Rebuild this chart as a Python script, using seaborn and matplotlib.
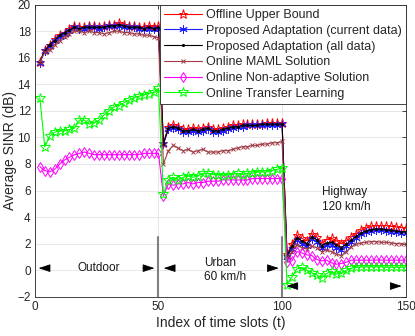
import numpy as np
import pandas as pd
import matplotlib
matplotlib.use("Agg")
import matplotlib.pyplot as plt
import seaborn as sns

# time slot index (one point every 2 slots)
slots = np.arange(2, 151, 2)

offline_upper = [15.7, 16.6, 17.0, 17.4, 17.7, 17.9, 18.2, 18.4, 18.3, 18.3, 18.4, 18.4, 18.3, 18.4, 18.5, 18.5, 18.6, 18.5, 18.4, 18.4, 18.3, 18.3, 18.4, 18.3, 18.4,
                 9.6, 10.8, 10.9, 10.8, 10.6, 10.6, 10.7, 10.6, 10.7, 10.8, 10.6, 10.6, 10.7, 10.8, 10.9, 10.9, 11.0, 11.0, 11.0, 11.0, 11.0, 11.1, 11.1, 11.1, 11.1,
                 1.2, 2.0, 2.65, 2.4, 2.2, 2.75, 2.5, 2.0, 2.3, 2.4, 2.2, 2.0, 2.2, 2.5, 2.75, 3.0, 3.15, 3.3, 3.35, 3.35, 3.35, 3.3, 3.25, 3.2, 3.15]
proposed_current = [15.6, 16.5, 16.9, 17.3, 17.6, 17.8, 18.0, 18.3, 18.2, 18.2, 18.3, 18.3, 18.2, 18.3, 18.4, 18.4, 18.4, 18.3, 18.3, 18.3, 18.2, 18.2, 18.2, 18.2, 18.2,
                    9.5, 10.6, 10.7, 10.6, 10.4, 10.4, 10.5, 10.4, 10.5, 10.6, 10.4, 10.4, 10.5, 10.6, 10.7, 10.8, 10.8, 10.9, 10.9, 10.9, 10.9, 10.9, 10.9, 10.9, 11.0,
                    1.0, 1.6, 2.3, 2.0, 1.8, 2.35, 2.1, 1.7, 1.9, 1.9, 1.7, 1.5, 1.8, 2.1, 2.4, 2.7, 2.85, 2.95, 3.0, 3.0, 2.95, 2.9, 2.85, 2.8, 2.8]
proposed_all = [15.7, 16.5, 17.0, 17.3, 17.7, 17.9, 18.1, 18.3, 18.2, 18.3, 18.3, 18.3, 18.3, 18.3, 18.4, 18.4, 18.5, 18.4, 18.3, 18.3, 18.3, 18.2, 18.3, 18.2, 18.3,
                9.5, 10.7, 10.8, 10.7, 10.5, 10.5, 10.6, 10.5, 10.6, 10.7, 10.5, 10.5, 10.6, 10.7, 10.8, 10.8, 10.9, 10.9, 10.9, 10.9, 11.0, 11.0, 11.0, 11.0, 11.0,
                1.1, 1.8, 2.45, 2.2, 2.0, 2.5, 2.3, 1.85, 2.05, 2.1, 1.9, 1.7, 1.95, 2.25, 2.55, 2.8, 2.95, 3.05, 3.1, 3.1, 3.05, 3.0, 2.95, 2.9, 2.9]
online_maml = [15.7, 16.4, 16.6, 17.0, 17.3, 17.6, 17.8, 18.0, 18.0, 17.9, 18.0, 17.9, 17.9, 17.8, 17.9, 18.0, 18.0, 17.9, 17.9, 17.8, 17.8, 17.7, 17.7, 17.6, 17.5,
               8.0, 9.0, 9.4, 9.2, 9.0, 9.1, 8.9, 9.0, 9.1, 8.9, 8.9, 8.9, 9.0, 9.0, 9.1, 9.2, 9.3, 9.3, 9.4, 9.4, 9.5, 9.5, 9.6, 9.6, 9.7,
               0.8, 1.4, 1.9, 1.7, 1.6, 1.8, 1.7, 1.4, 1.5, 1.4, 1.2, 1.1, 1.4, 1.75, 1.95, 2.05, 2.1, 2.15, 2.15, 2.1, 2.1, 2.05, 2.0, 2.0, 1.95]
online_nonadaptive = [7.8, 7.5, 7.4, 7.6, 8.0, 8.3, 8.5, 8.7, 8.8, 8.9, 8.8, 8.7, 8.7, 8.7, 8.7, 8.7, 8.7, 8.7, 8.7, 8.7, 8.7, 8.8, 8.8, 8.8, 8.8,
                      5.6, 6.5, 6.4, 6.5, 6.5, 6.6, 6.5, 6.6, 6.6, 6.7, 6.7, 6.7, 6.8, 6.8, 6.8, 6.8, 6.8, 6.8, 6.9, 6.9, 6.9, 6.9, 6.9, 6.9, 6.9,
                      0.6, 0.7, 1.4, 1.3, 1.15, 1.1, 0.8, 0.7, 0.75, 0.55, 0.45, 0.5, 0.6, 0.75, 0.75, 0.75, 0.75, 0.75, 0.76, 0.76, 0.75, 0.75, 0.75, 0.75, 0.75]
online_transfer = [13.0, 9.3, 10.1, 10.4, 10.5, 10.5, 10.6, 10.7, 11.3, 11.3, 11.0, 11.1, 11.3, 11.7, 12.0, 12.3, 12.4, 12.6, 12.8, 13.0, 13.1, 13.2, 13.3, 13.4, 13.7,
                   5.7, 6.8, 7.0, 6.8, 7.0, 7.1, 7.0, 7.1, 7.3, 7.3, 7.2, 7.2, 7.1, 7.2, 7.2, 7.3, 7.2, 7.3, 7.3, 7.4, 7.4, 7.4, 7.5, 7.6, 7.7,
                   -1.1, -0.5, 0.1, 0.2, 0.0, -0.2, -0.35, -0.6, -0.25, -0.1, -0.3, -0.25, 0.0, 0.15, 0.2, 0.25, 0.25, 0.25, 0.25, 0.25, 0.22, 0.22, 0.22, 0.22, 0.22]

series = [
    ("Offline Upper Bound", offline_upper, "#ff0000", "*", 6.5, "none"),
    ("Proposed Adaptation (current data)", proposed_current, "#2020ff", (6, 2, 0), 6, "none"),
    ("Proposed Adaptation (all data)", proposed_all, "black", ".", 3, "black"),
    ("Online MAML Solution", online_maml, "#a03c46", "x", 3.5, "none"),
    ("Online Non-adaptive Solution", online_nonadaptive, "#ff00ff", "d", 5.5, "none"),
    ("Online Transfer Learning", online_transfer, "#00ff00", "*", 7, "none"),
]

sns.set_theme(style="whitegrid")
plt.rcParams['font.family'] = ['Liberation Sans', 'DejaVu Sans']

fig = plt.figure(figsize=(4.15, 3.36), dpi=100)
ax = fig.add_axes([0.084, 0.117, 0.8936, 0.869])

for name, vals, col, mk, ms, fc in series:
    df = pd.DataFrame({"t": slots, "v": vals})
    sns.lineplot(data=df, x="t", y="v", ax=ax, color=col, marker=mk, markersize=ms,
                 markerfacecolor=fc, markeredgecolor=col, markeredgewidth=0.7,
                 linewidth=0.8, label=name, estimator=None)

# scenario boundaries
for xb in [50, 100]:
    ax.plot([xb, xb], [-2, 2.5], color="#808080", linewidth=1.5, zorder=1)

arrow = dict(arrowstyle="-|>,head_length=0.9,head_width=0.3", color="black",
             linewidth=0.6, mutation_scale=8)
for tail, tip, y in [(7, 0.4, 0.15), (42.5, 49.5, 0.15), (57.5, 51, 0.15),
                     (94.5, 99.8, 0.15), (107.5, 100.6, -1.2), (143, 149.5, -1.2)]:
    ax.annotate("", xy=(tip, y), xytext=(tail, y), arrowprops=arrow)

ax.text(26, 0.15, "Outdoor", ha="center", va="center", fontsize=8.5, color="#1a1a1a")
ax.text(68.5, 0.0, "Urban\n60 km/h", ha="left", va="center", fontsize=8.5,
        color="#1a1a1a", linespacing=1.3)
ax.text(116, 5.3, "Highway\n120 km/h", ha="left", va="center", fontsize=8.5,
        color="#1a1a1a", linespacing=1.3)

ax.set_xlim(0, 150)
ax.set_ylim(-2, 20)
ax.set_xticks([0, 50, 100, 150])
ax.set_yticks(np.arange(-2, 21, 2))
ax.set_xlabel("Index of time slots (t)", fontsize=10, color="#262626", labelpad=2)
ax.set_ylabel("Average SINR (dB)", fontsize=10, color="#262626", labelpad=0)
ax.tick_params(direction="in", length=3, width=0.6, labelsize=8.5, colors="#262626",
               pad=3, top=True, right=True)
ax.tick_params(axis="both", which="both", labelcolor="#262626")
ax.grid(True, color="#e3e3e3", linewidth=0.6)
for s in ax.spines.values():
    s.set_color("#262626")
    s.set_linewidth(0.6)

leg = ax.legend(loc="upper right", fontsize=9, frameon=True, fancybox=False,
                edgecolor="#262626", borderaxespad=0, handlelength=3.0,
                handletextpad=0.3, labelspacing=0.3, borderpad=0.35)
leg.get_frame().set_linewidth(0.6)
leg.get_frame().set_alpha(1)

fig.savefig("out.png", dpi=100)
